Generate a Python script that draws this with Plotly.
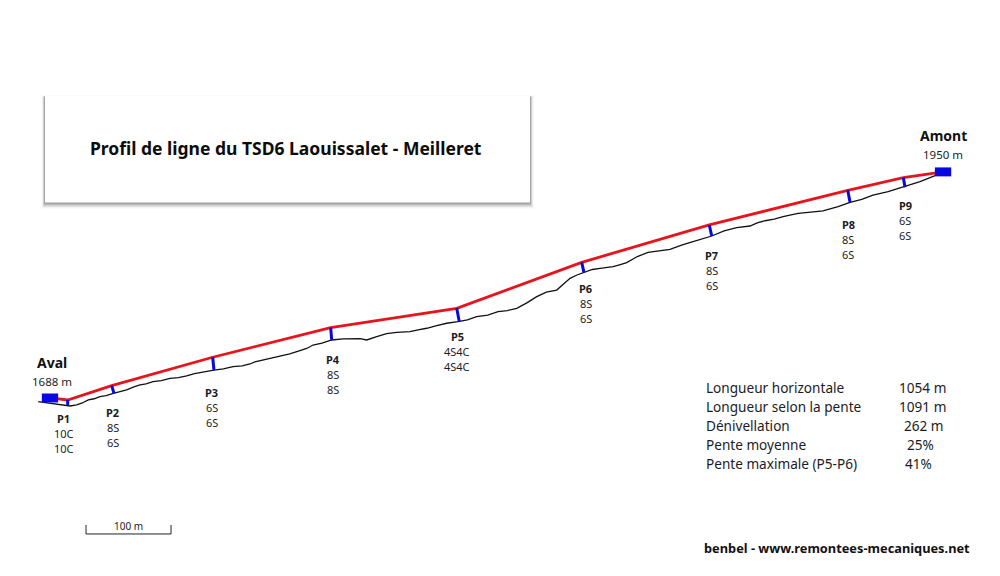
import plotly.graph_objects as go

line_x = [0, 20.8, 72.6, 191.4, 330.2, 478.5, 625.5, 775.6, 938.5, 1003.9, 1050.6]
line_alt = [1688, 1685.7, 1702.3, 1735.2, 1769.5, 1791.9, 1845.2, 1888.5, 1928.7, 1943.3, 1950]

# terrain
ground_x = [-13.8, 3.9, 23.5, 31.4, 38, 45.1, 52, 58.8, 66, 74.5, 82, 90.2, 98, 105.9, 113, 121.2,
            131, 141.2, 151, 160.8, 170, 178.5, 186, 192.9, 204, 215.3, 226, 235.3, 241, 247.1,
            259, 270.6, 282, 294.1, 302, 309.4, 320, 331.4, 344.7, 364.7, 372.6, 384.4,
            396, 407.9, 423.5, 433, 443.2, 455, 466.7, 480, 491, 502, 515, 527.1, 538, 549.1,
            561, 572.6, 584, 596.1, 604, 611.8, 620, 628.2, 638, 647.1, 662.4, 670, 678.5,
            691, 703.5, 729.4, 743, 756.5, 768, 778.5, 793, 807.9, 823.5, 832, 841.2, 852, 862.4,
            880, 895, 909.4, 927.1, 941.2, 955, 968.2, 986, 1003.5, 1023.5, 1041.2]
ground_alt = [1683.7, 1681.0, 1678.7, 1679.9, 1682.2, 1685.7, 1687.1, 1689.5, 1690.8, 1693.4,
              1694.9, 1697.3, 1700.6, 1703.1, 1704.4, 1706.9, 1708.1, 1710.8, 1711.7, 1713.5,
              1716.2, 1717.8, 1718.6, 1720.4, 1721.7, 1724.3, 1725.2, 1727.4, 1729.8, 1731.2,
              1733.6, 1736.7, 1739.1, 1742.8, 1745.4, 1749.4, 1751.7, 1755.2, 1756.4, 1756.7,
              1755.2, 1759.0, 1762.6, 1764.1, 1764.8, 1767.0, 1768.8, 1771.9, 1774.6, 1776.4,
              1778.4, 1782.2, 1784.1, 1788.0, 1789.3, 1791.9, 1798.2, 1805.4, 1810.6, 1813.1,
              1819.4, 1826.7, 1830.5, 1833.2, 1836.9, 1838.3, 1840.1, 1842.3, 1844.8, 1851.9,
              1856.8, 1860.3, 1865.2, 1869.1, 1872.1, 1875.7, 1881.6, 1885.3, 1887.3, 1890.8,
              1893.4, 1895.3, 1898.1, 1902, 1903.3, 1904.7, 1909.7, 1914.8, 1918.1, 1923.2,
              1927.1, 1932.2, 1938.7, 1945.6]

# pylones
towers = ["P1", "P2", "P3", "P4", "P5", "P6", "P7", "P8", "P9"]
tower_top_x = [20.8, 72.6, 191.4, 330.2, 478.5, 625.5, 775.6, 938.5, 1003.9]
tower_top_alt = [1685.7, 1702.3, 1735.2, 1769.5, 1791.9, 1845.2, 1888.5, 1928.7, 1943.3]
tower_foot_x = [20.8, 75.3, 192.9, 331.4, 481.5, 628.2, 778.5, 941.2, 1005.9]
tower_foot_alt = [1679.9, 1693.4, 1720.4, 1755.2, 1776.4, 1833.2, 1875.7, 1914.8, 1932.2]
balancier_up = ["10C", "8S", "6S", "8S", "4S4C", "8S", "8S", "8S", "6S"]
balancier_down = ["10C", "6S", "6S", "8S", "4S4C", "6S", "6S", "6S", "6S"]

stations = ["Aval", "Amont"]
station_x = [0, 1050.6]
station_alt = [1688, 1950]
station_alt_labels = ["1688 m", "1950 m"]

stat_names = ["Longueur horizontale", "Longueur selon la pente", "Dénivellation",
              "Pente moyenne", "Pente maximale (P5-P6)"]
stat_values = ["1054 m", "1091 m", "262 m", "25%", "41%"]

W, H = 1000, 576
FONT = "Noto Sans"
RED, BLUE, INK = "#e8141c", "#0808e0", "#1c1c24"

fig = go.Figure()

fig.add_trace(go.Scatter(x=ground_x, y=ground_alt, mode="lines",
                         line=dict(color="#111111", width=1.3), hoverinfo="skip"))
fig.add_trace(go.Scatter(x=line_x, y=line_alt, mode="lines",
                         line=dict(color=RED, width=2.8), hoverinfo="skip"))

# un segment par pylone
tx, ty = [], []
for i in range(len(towers)):
    tx += [tower_top_x[i], tower_foot_x[i], None]
    ty += [tower_top_alt[i], tower_foot_alt[i], None]
fig.add_trace(go.Scatter(x=tx, y=ty, mode="lines", line=dict(color=BLUE, width=3), hoverinfo="skip"))

# echelle 100 m
scale_x0 = 42.4
fig.add_trace(go.Scatter(x=[scale_x0, scale_x0, scale_x0 + 100, scale_x0 + 100],
                         y=[1540.8, 1530.4, 1530.4, 1540.8], mode="lines",
                         line=dict(color="#222222", width=1), hoverinfo="skip"))

shapes = []
# ombre du cartouche: plus marquee en bas, legere a droite et a gauche
for left, right, top, bottom, alpha in [(3, 4, 1, 6, 0.03), (2.5, 3, 0.5, 5, 0.06), (2, 2, 0, 4, 0.09),
                                        (1.5, 1.5, 0, 3, 0.11), (1, 1, 0, 2, 0.13), (0.5, 0.5, 0, 1, 0.15)]:
    shapes.append(dict(type="rect", xref="paper", yref="paper", layer="below",
                       x0=(45 - left) / W, x1=(530 + right) / W,
                       y0=1 - (202.5 + bottom) / H, y1=1 - (96.5 - top) / H,
                       fillcolor=f"rgba(40,40,40,{alpha})", line_width=0))
shapes.append(dict(type="rect", xref="paper", yref="paper", layer="below",
                   x0=45 / W, x1=530 / W, y0=1 - 202.5 / H, y1=1 - 96 / H,
                   fillcolor="white", line_width=0))
# gares
for sx, sa in zip(station_x, station_alt):
    shapes.append(dict(type="rect", x0=sx - 9.6, x1=sx + 9.6, y0=sa - 5.2, y1=sa + 5.2,
                       fillcolor=BLUE, line_width=0))


def label(text, px, py, size=11, bold=False, anchor="center", color=INK):
    if bold:
        text = f"<b>{text}</b>"
    fig.add_annotation(text=text, xref="paper", yref="paper", x=px / W, y=1 - py / H,
                       xanchor=anchor, yanchor="middle", showarrow=False,
                       font=dict(family=FONT, size=size, color=color))


label("Profil de ligne du TSD6 Laouissalet - Meilleret", 286, 148, size=17.5, bold=True, color="#0c0c0c")

# etiquettes sous chaque pylone, decalees depuis le pied
label_dx = [-4, -1, -2, 1, -2, 2, 0, -2, 0]
label_dy = [14, 19, 22, 20, 15, 16, 19, 22, 18]
for i, name in enumerate(towers):
    for text, extra, bold in [(name, 0, True), (balancier_up[i], 15, False), (balancier_down[i], 30, False)]:
        if bold:
            text = f"<b>{text}</b>"
        fig.add_annotation(text=text, x=tower_foot_x[i], y=tower_foot_alt[i],
                           xshift=label_dx[i], yshift=-(label_dy[i] + extra),
                           showarrow=False, xanchor="center", yanchor="middle",
                           font=dict(family=FONT, size=11, color=INK))

for name, alt_text, px, py in zip(stations, station_alt_labels, [52, 943], [362, 135]):
    label(name, px, py, size=14, bold=True, color="#111111")
    label(alt_text, px, py + 19, size=11.5)

label("100 m", 128, 526, size=10)

stat_rows = [387, 406, 425, 444, 463]
stat_centres = [922, 922, 924, 920, 918.5]
for name, value, py, cx in zip(stat_names, stat_values, stat_rows, stat_centres):
    label(name, 704, py, size=13.6, anchor="left")
    label(value, cx, py, size=13.6)

label("benbel - www.remontees-mecaniques.net", 702, 548, size=12.8, bold=True, anchor="left", color="#111111")

fig.update_layout(
    width=W, height=H,
    margin=dict(l=0, r=0, t=0, b=0),
    paper_bgcolor="white", plot_bgcolor="rgba(0,0,0,0)",
    showlegend=False,
    shapes=shapes,
    xaxis=dict(range=[-58.8, 1117.6], visible=False, fixedrange=True),
    yaxis=dict(range=[1481.7, 2149.2], visible=False, fixedrange=True),
)

fig.write_html("out.html", config={"displayModeBar": False},
               post_script="document.body.style.margin='0';")
